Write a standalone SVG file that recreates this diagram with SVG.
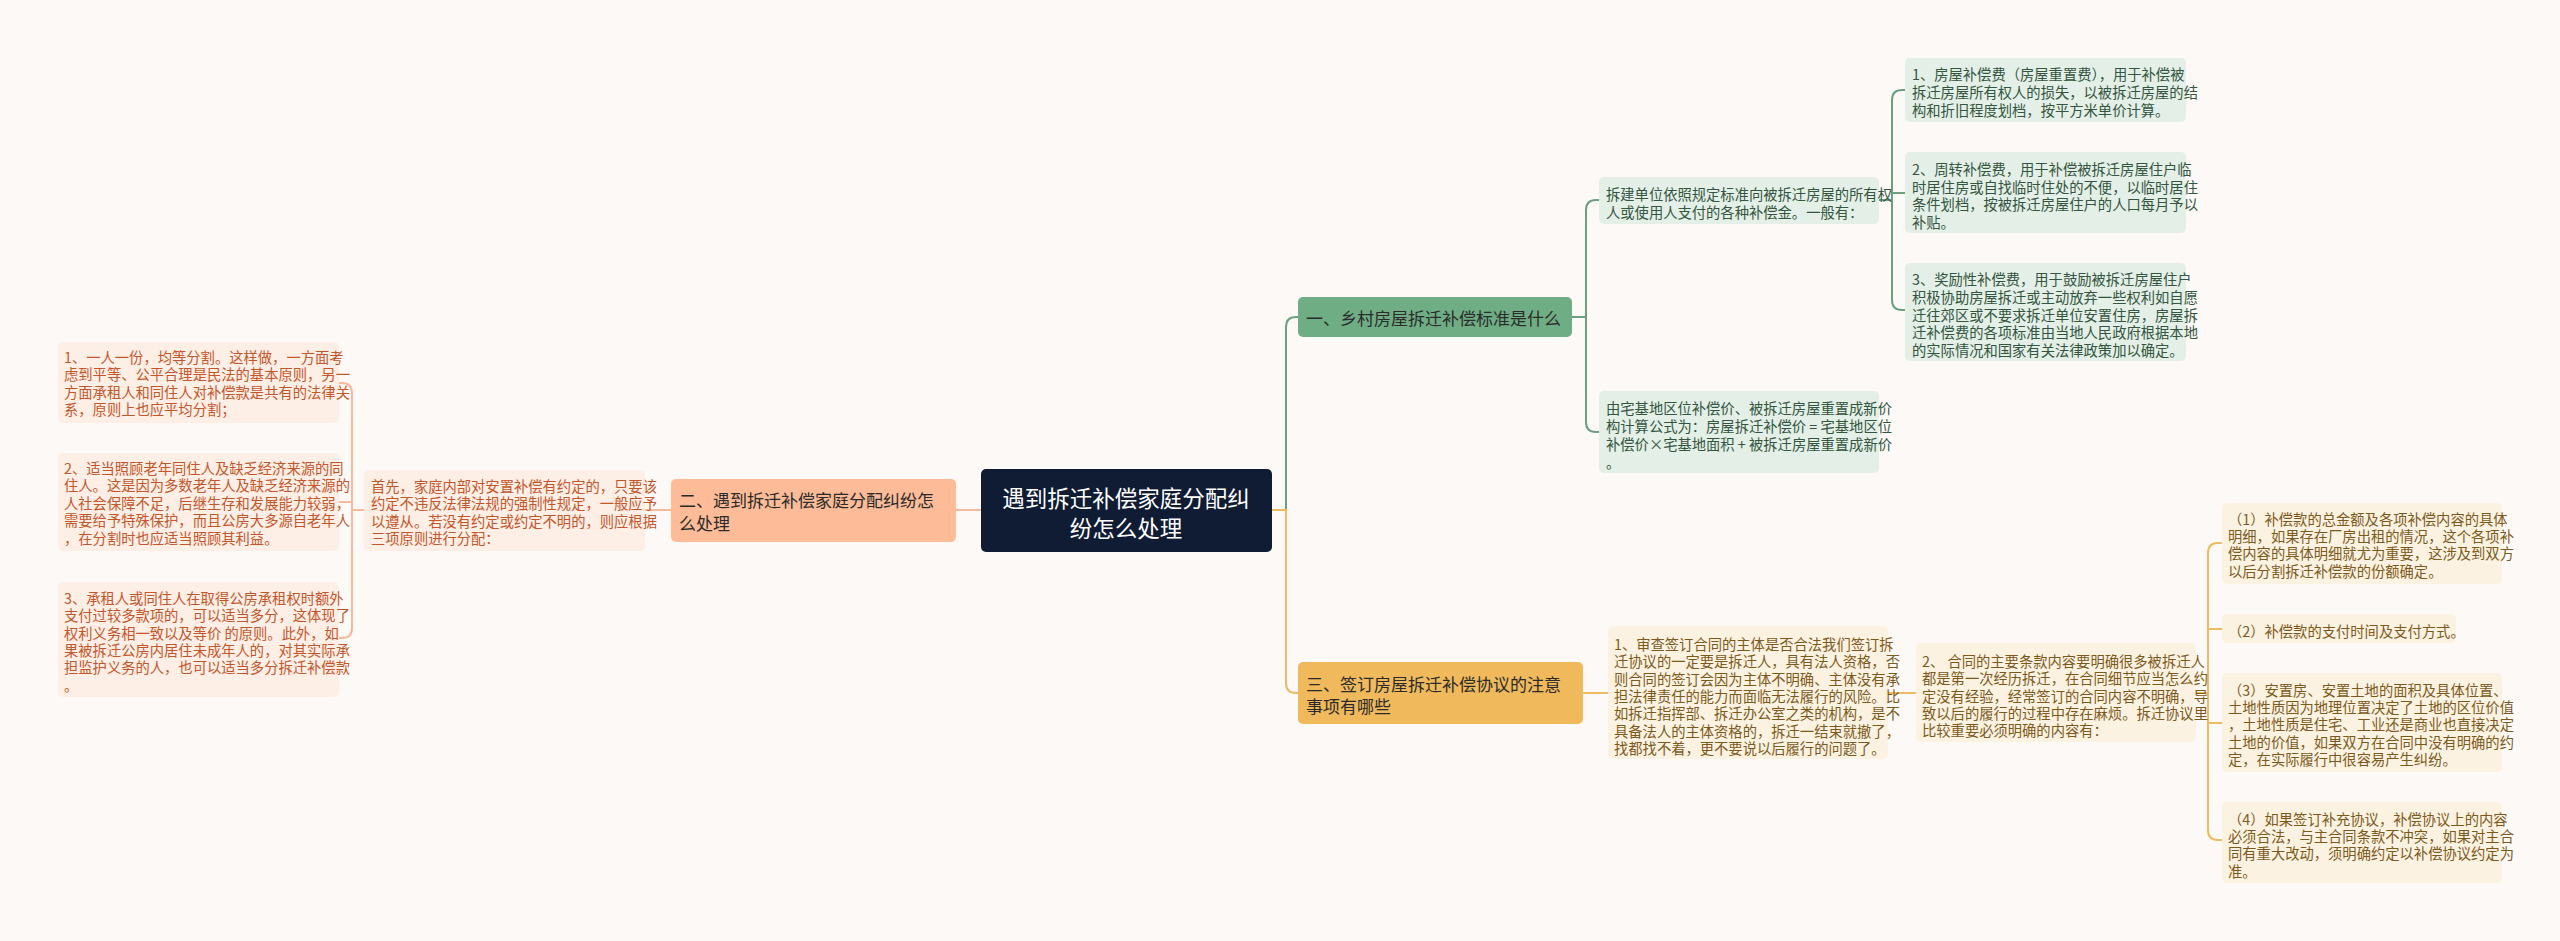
<svg xmlns="http://www.w3.org/2000/svg" width="2560" height="941" viewBox="0 0 2560 941">
<style>
text{font-family:"Noto Sans CJK SC","Noto Sans",sans-serif;dominant-baseline:central}
.lf{font-size:14.3px}
.g rect{fill:#e3efe7}.g text{fill:#34553f}
.o rect{fill:#fcf2e1}.o text{fill:#7d5a1c}
.s rect{fill:#fdeee6}.s text{fill:#c4562a}
.br{font-size:17px;fill:#2b2b2b}
.cg{stroke:#6c9f80;stroke-width:2;fill:none}
.co{stroke:#ecbb62;stroke-width:2;fill:none}
.cs{stroke:#f8b89a;stroke-width:2;fill:none}
</style>
<rect width="2560" height="941" fill="#fdf9f7"/>
<g id="connectors">
<path class="cg" d="M1272 510H1286V327Q1286 317 1296 317H1298"/>
<path class="co" d="M1272 510H1286V683Q1286 693 1296 693H1298"/>
<path class="cs" d="M981 510H956"/>
<path class="cg" d="M1572 317H1586M1599 200H1596Q1586 200 1586 210V422Q1586 432 1596 432H1599"/>
<path class="cg" d="M1879 200H1892M1905 90H1902Q1892 90 1892 100V300Q1892 310 1902 310H1905M1892 193H1905"/>
<path class="co" d="M1583 693H1608M1888 693H1916M2196 693H2208M2222 543H2218Q2208 543 2208 553V830Q2208 840 2218 840H2222M2208 629H2222M2208 723H2222"/>
<path class="cs" d="M671 510H645M364 510H352M339 383H342Q352 383 352 393V628Q352 638 342 638H339M352 502H339"/>
</g>
<g id="center"><rect x="981" y="469" width="291" height="83" rx="5" fill="#0f1c33"/>
<text x="1126" y="497" font-size="22.5" fill="#fff" text-anchor="middle">遇到拆迁补偿家庭分配纠</text>
<text x="1126" y="527" font-size="22.5" fill="#fff" text-anchor="middle">纷怎么处理</text></g>
<g id="b1"><rect x="1298" y="297" width="274" height="40" rx="5" fill="#6fae85"/>
<text class="br" x="1306" y="317">一、乡村房屋拆迁补偿标准是什么</text></g>
<g id="b3"><rect x="1298" y="662" width="285" height="62" rx="5" fill="#f0b95c"/>
<text class="br" x="1306" y="683">三、签订房屋拆迁补偿协议的注意</text><text class="br" x="1306" y="705">事项有哪些</text></g>
<g id="b2"><rect x="671" y="479" width="285" height="63" rx="5" fill="#fdbb98"/>
<text class="br" x="679" y="499">二、遇到拆迁补偿家庭分配纠纷怎</text><text class="br" x="679" y="522">么处理</text></g>
<g id="n11" class="g lf"><rect x="1599" y="177" width="280" height="47" rx="5"/>
<text x="1606" y="193">拆建单位依照规定标准向被拆迁房屋的所有权</text><text x="1606" y="211">人或使用人支付的各种补偿金。一般有：</text></g>
<g id="n12" class="g lf"><rect x="1599" y="391" width="280" height="82" rx="5"/>
<text x="1606" y="407">由宅基地区位补偿价、被拆迁房屋重置成新价</text><text x="1606" y="425">构计算公式为：房屋拆迁补偿价 = 宅基地区位</text><text x="1606" y="443">补偿价×宅基地面积 + 被拆迁房屋重置成新价</text><text x="1606" y="461">。</text></g>
<g id="l1" class="g lf"><rect x="1905" y="58" width="281" height="64" rx="5"/>
<text x="1912" y="73">1、房屋补偿费（房屋重置费），用于补偿被</text><text x="1912" y="91">拆迁房屋所有权人的损失，以被拆迁房屋的结</text><text x="1912" y="109">构和折旧程度划档，按平方米单价计算。</text></g>
<g id="l2" class="g lf"><rect x="1905" y="152" width="281" height="81" rx="5"/>
<text x="1912" y="168">2、周转补偿费，用于补偿被拆迁房屋住户临</text><text x="1912" y="186">时居住房或自找临时住处的不便，以临时居住</text><text x="1912" y="203">条件划档，按被拆迁房屋住户的人口每月予以</text><text x="1912" y="221">补贴。</text></g>
<g id="l3" class="g lf"><rect x="1905" y="263" width="281" height="98" rx="5"/>
<text x="1912" y="278">3、奖励性补偿费，用于鼓励被拆迁房屋住户</text><text x="1912" y="296">积极协助房屋拆迁或主动放弃一些权利如自愿</text><text x="1912" y="314">迁往郊区或不要求拆迁单位安置住房，房屋拆</text><text x="1912" y="331">迁补偿费的各项标准由当地人民政府根据本地</text><text x="1912" y="349">的实际情况和国家有关法律政策加以确定。</text></g>
<g id="n31" class="o lf"><rect x="1608" y="626" width="280" height="133" rx="5"/>
<text x="1614" y="643">1、审查签订合同的主体是否合法我们签订拆</text><text x="1614" y="660">迁协议的一定要是拆迁人，具有法人资格，否</text><text x="1614" y="678">则合同的签订会因为主体不明确、主体没有承</text><text x="1614" y="695">担法律责任的能力而面临无法履行的风险。比</text><text x="1614" y="712">如拆迁指挥部、拆迁办公室之类的机构，是不</text><text x="1614" y="730">具备法人的主体资格的，拆迁一结束就撤了，</text><text x="1614" y="747">找都找不着，更不要说以后履行的问题了。</text></g>
<g id="n32" class="o lf"><rect x="1916" y="643" width="280" height="99" rx="5"/>
<text x="1922" y="660">2、 合同的主要条款内容要明确很多被拆迁人</text><text x="1922" y="677">都是第一次经历拆迁，在合同细节应当怎么约</text><text x="1922" y="695">定没有经验，经常签订的合同内容不明确，导</text><text x="1922" y="712">致以后的履行的过程中存在麻烦。拆迁协议里</text><text x="1922" y="729">比较重要必须明确的内容有：</text></g>
<g id="o1" class="o lf"><rect x="2222" y="503" width="280" height="81" rx="5"/>
<text x="2228" y="518">（1）补偿款的总金额及各项补偿内容的具体</text><text x="2228" y="535">明细，如果存在厂房出租的情况，这个各项补</text><text x="2228" y="552">偿内容的具体明细就尤为重要，这涉及到双方</text><text x="2228" y="570">以后分割拆迁补偿款的份额确定。</text></g>
<g id="o2" class="o lf"><rect x="2222" y="614" width="234" height="29" rx="5"/>
<text x="2228" y="630">（2）补偿款的支付时间及支付方式。</text></g>
<g id="o3" class="o lf"><rect x="2222" y="673" width="280" height="99" rx="5"/>
<text x="2228" y="689">（3）安置房、安置土地的面积及具体位置、</text><text x="2228" y="706">土地性质因为地理位置决定了土地的区位价值</text><text x="2228" y="723">，土地性质是住宅、工业还是商业也直接决定</text><text x="2228" y="741">土地的价值，如果双方在合同中没有明确的约</text><text x="2228" y="758">定，在实际履行中很容易产生纠纷。</text></g>
<g id="o4" class="o lf"><rect x="2222" y="802" width="280" height="81" rx="5"/>
<text x="2228" y="818">（4）如果签订补充协议，补偿协议上的内容</text><text x="2228" y="835">必须合法，与主合同条款不冲突，如果对主合</text><text x="2228" y="852">同有重大改动，须明确约定以补偿协议约定为</text><text x="2228" y="870">准。</text></g>
<g id="n21" class="s lf"><rect x="364" y="470" width="281" height="81" rx="5"/>
<text x="371" y="485">首先，家庭内部对安置补偿有约定的，只要该</text><text x="371" y="502">约定不违反法律法规的强制性规定，一般应予</text><text x="371" y="520">以遵从。若没有约定或约定不明的，则应根据</text><text x="371" y="537">三项原则进行分配：</text></g>
<g id="s1" class="s lf"><rect x="58" y="342" width="281" height="81" rx="5"/>
<text x="64" y="356">1、一人一份，均等分割。这样做，一方面考</text><text x="64" y="373">虑到平等、公平合理是民法的基本原则，另一</text><text x="64" y="391">方面承租人和同住人对补偿款是共有的法律关</text><text x="64" y="408">系，原则上也应平均分割；</text></g>
<g id="s2" class="s lf"><rect x="58" y="453" width="281" height="98" rx="5"/>
<text x="64" y="467">2、适当照顾老年同住人及缺乏经济来源的同</text><text x="64" y="484">住人。这是因为多数老年人及缺乏经济来源的</text><text x="64" y="502">人社会保障不足，后继生存和发展能力较弱，</text><text x="64" y="519">需要给予特殊保护，而且公房大多源自老年人</text><text x="64" y="537">，在分割时也应适当照顾其利益。</text></g>
<g id="s3" class="s lf"><rect x="58" y="582" width="281" height="115" rx="5"/>
<text x="64" y="597">3、承租人或同住人在取得公房承租权时额外</text><text x="64" y="614">支付过较多款项的，可以适当多分，这体现了</text><text x="64" y="632">权利义务相一致以及等价 的原则。此外，如</text><text x="64" y="649">果被拆迁公房内居住未成年人的，对其实际承</text><text x="64" y="666">担监护义务的人，也可以适当多分拆迁补偿款</text><text x="64" y="684">。</text></g>
</svg>
